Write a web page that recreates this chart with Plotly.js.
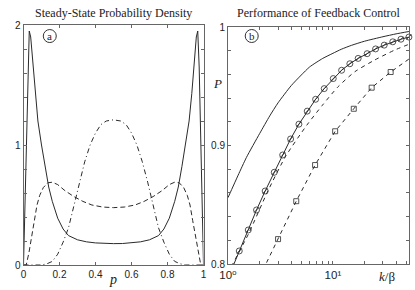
<!DOCTYPE html>
<html>
<head>
<meta charset="utf-8">
<script src="https://cdn.plot.ly/plotly-3.0.1.min.js"></script>
<style>html,body{margin:0;padding:0;background:#fff;}#chart{width:415px;height:290px;}</style>
</head>
<body>
<div id="chart"></div>
<script>
// ---- Panel (a): steady-state probability densities ----
const pSolid = [0, 0.008, 0.016, 0.024, 0.032, 0.04, 0.05, 0.065, 0.08, 0.1, 0.12, 0.14, 0.16, 0.19, 0.22, 0.25, 0.3, 0.35, 0.4, 0.45, 0.5, 0.55, 0.6, 0.65, 0.7, 0.75, 0.78, 0.81, 0.84, 0.86, 0.88, 0.9, 0.92, 0.935, 0.95, 0.96, 0.968, 0.976, 0.984, 0.992, 1];
const densSolid = [0, 0.5, 1.1, 1.65, 1.95, 1.9, 1.72, 1.43, 1.2, 1.0, 0.82, 0.65, 0.53, 0.39, 0.3, 0.245, 0.21, 0.193, 0.184, 0.179, 0.178, 0.179, 0.184, 0.193, 0.21, 0.245, 0.3, 0.39, 0.53, 0.65, 0.82, 1.0, 1.2, 1.43, 1.72, 1.9, 1.95, 1.65, 1.1, 0.5, 0];

const pDash = [0, 0.015, 0.03, 0.045, 0.06, 0.075, 0.09, 0.11, 0.135, 0.16, 0.19, 0.23, 0.28, 0.33, 0.38, 0.44, 0.5, 0.56, 0.62, 0.67, 0.72, 0.77, 0.81, 0.84, 0.865, 0.89, 0.91, 0.925, 0.94, 0.955, 0.97, 0.985, 1];
const densDash = [0, 0, 0.1, 0.24, 0.37, 0.5, 0.58, 0.645, 0.685, 0.69, 0.67, 0.62, 0.57, 0.53, 0.5, 0.483, 0.478, 0.483, 0.5, 0.53, 0.57, 0.62, 0.67, 0.69, 0.685, 0.645, 0.58, 0.5, 0.37, 0.24, 0.1, 0, 0];

const pDashDot = [0, 0.1, 0.13, 0.16, 0.19, 0.22, 0.25, 0.28, 0.31, 0.34, 0.37, 0.4, 0.43, 0.46, 0.5, 0.54, 0.57, 0.6, 0.63, 0.66, 0.69, 0.72, 0.75, 0.78, 0.81, 0.84, 0.87, 0.9, 1];
const densDashDot = [0, 0, 0.01, 0.03, 0.09, 0.19, 0.31, 0.5, 0.69, 0.86, 1.0, 1.1, 1.17, 1.2, 1.21, 1.2, 1.17, 1.1, 1.0, 0.86, 0.69, 0.5, 0.31, 0.19, 0.09, 0.03, 0.01, 0, 0];

const xTickVals = [0, 0.2, 0.4, 0.6, 0.8, 1];
const xTickText = ['0', '0.2', '0.4', '0.6', '0.8', '1'];
const yTickValsA = [0, 1, 2];
const yTickTextA = ['0', '1', '2'];

// ---- Panel (b): performance of feedback control ----
const kUpper = [1, 1.25, 1.5, 2, 2.5, 3, 4, 5, 6, 8, 10, 12, 15, 20, 30, 40, 53];
const PUpper = [0.856, 0.875, 0.89, 0.91, 0.925, 0.936, 0.9505, 0.9595, 0.9663, 0.9735, 0.9778, 0.9812, 0.9845, 0.988, 0.9918, 0.9942, 0.9962];

const kCircLine = [1, 1.28, 1.56, 1.87, 2.26, 2.76, 3.32, 3.95, 4.74, 5.69, 6.84, 8.26, 10.07, 12.1, 14.5, 17.4, 21.2, 25.5, 30.8, 37.2, 44.5, 53.0];
const PCircLine = [0.788, 0.811, 0.8287, 0.8456, 0.8616, 0.8774, 0.892, 0.9055, 0.918, 0.929, 0.939, 0.948, 0.9565, 0.9635, 0.969, 0.9735, 0.9775, 0.9815, 0.9847, 0.9875, 0.9897, 0.9915];
const kCirc = [1.28, 1.56, 1.87, 2.26, 2.76, 3.32, 3.95, 4.74, 5.69, 6.84, 8.26, 10.07, 12.1, 14.5, 17.4, 21.2, 25.5, 30.8, 37.2, 44.5, 53.0];
const PCirc = [0.811, 0.8287, 0.8456, 0.8616, 0.8774, 0.892, 0.9055, 0.918, 0.929, 0.939, 0.948, 0.9565, 0.9635, 0.969, 0.9735, 0.9775, 0.9815, 0.9847, 0.9875, 0.9897, 0.9915];

const kDash1 = [1, 1.11, 1.58, 2.4, 3.55, 5.62, 7.94, 11.2, 16.2, 25.1, 38.9, 53];
const PDash1 = [0.792, 0.8, 0.826, 0.8616, 0.891, 0.917, 0.934, 0.9496, 0.9623, 0.9722, 0.9806, 0.9854];

const kSqLine = [2.0, 2.3, 3.0, 4.47, 6.76, 10.5, 15.8, 23.4, 35.5, 53.1];
const PSqLine = [0.789, 0.8, 0.821, 0.853, 0.8835, 0.912, 0.931, 0.9488, 0.962, 0.973];
const kSq = [3.0, 4.47, 6.76, 10.5, 15.8, 23.4, 35.5, 53.1];
const PSq = [0.821, 0.853, 0.8835, 0.912, 0.931, 0.9488, 0.962, 0.973];

const xTickValsB = [1, 10];
const xTickTextB = ['10\u2070', '10\u00B9'];
const xMinorValsB = [2, 3, 4, 5, 6, 7, 8, 9, 20, 30, 40, 50];
const yTickValsB = [0.8, 0.9, 1.0];
const yTickTextB = ['0.8', '0.9', '1'];

const ink = '#2a2a2a';
const frame = '#666';

const traces = [
  {x: pSolid, y: densSolid, xaxis: 'x', yaxis: 'y', mode: 'lines', line: {color: ink, width: 1}},
  {x: pDash, y: densDash, xaxis: 'x', yaxis: 'y', mode: 'lines', line: {color: ink, width: 1, dash: '5px,3px'}},
  {x: pDashDot, y: densDashDot, xaxis: 'x', yaxis: 'y', mode: 'lines', line: {color: ink, width: 1, dash: '5px,3px,1px,3px'}},

  {x: kUpper, y: PUpper, xaxis: 'x2', yaxis: 'y2', mode: 'lines', line: {color: ink, width: 1, shape: 'spline', smoothing: 0.6}},
  {x: kCircLine, y: PCircLine, xaxis: 'x2', yaxis: 'y2', mode: 'lines', line: {color: ink, width: 1}},
  {x: kDash1, y: PDash1, xaxis: 'x2', yaxis: 'y2', mode: 'lines', line: {color: ink, width: 1, dash: '4px,4px', shape: 'spline', smoothing: 0.6}},
  {x: kSqLine, y: PSqLine, xaxis: 'x2', yaxis: 'y2', mode: 'lines', line: {color: ink, width: 1, dash: '4px,4px'}},
  {x: kCirc, y: PCirc, xaxis: 'x2', yaxis: 'y2', mode: 'markers', cliponaxis: false,
   marker: {symbol: 'circle-open', size: 6, color: ink, line: {width: 0.8, color: ink}}},
  {x: kCirc, y: PCirc, xaxis: 'x2', yaxis: 'y2', mode: 'markers', cliponaxis: false,
   marker: {symbol: 'line-ne', size: 5, color: ink, line: {width: 0.8, color: ink}}},
  {x: kSq, y: PSq, xaxis: 'x2', yaxis: 'y2', mode: 'markers', cliponaxis: false,
   marker: {symbol: 'square-open', size: 5, color: ink, line: {width: 0.8, color: ink}}}
];

const tickFont = {family: 'Liberation Sans, DejaVu Sans, Arial, sans-serif', size: 10, color: '#222'};
const axisCommon = {
  showline: true, mirror: 'allticks', linecolor: frame, linewidth: 1,
  ticks: 'inside', ticklen: 3, tickcolor: frame, tickwidth: 1,
  showgrid: false, zeroline: false, tickfont: tickFont, tickmode: 'array', fixedrange: true
};
const minorCommon = {ticks: 'inside', ticklen: 3, tickcolor: frame, tickwidth: 1, showgrid: false};

const serif = 'Liberation Serif, Times New Roman, serif';
const serifItalic = {family: serif, size: 13, color: '#222', style: 'italic'};

const layout = {
  width: 415, height: 290,
  margin: {l: 0, r: 0, t: 0, b: 0},
  paper_bgcolor: '#fff', plot_bgcolor: '#fff',
  showlegend: false,
  xaxis: Object.assign({}, axisCommon, {domain: [23.5/415, 203.5/415], range: [0, 1], anchor: 'y',
    tickvals: xTickVals, ticktext: xTickText}),
  yaxis: Object.assign({}, axisCommon, {domain: [25/290, 265/290], range: [0, 2], anchor: 'x',
    tickvals: yTickValsA, ticktext: yTickTextA,
    minor: Object.assign({}, minorCommon, {tickmode: 'linear', tick0: 0, dtick: 0.2})}),
  xaxis2: Object.assign({}, axisCommon, {domain: [228/415, 409/415], type: 'log', range: [0, 1.725], anchor: 'y2',
    tickvals: xTickValsB, ticktext: xTickTextB,
    tickfont: Object.assign({}, tickFont, {size: 11.5}),
    minor: Object.assign({}, minorCommon, {tickmode: 'array', tickvals: xMinorValsB})}),
  yaxis2: Object.assign({}, axisCommon, {domain: [26/290, 263/290], range: [0.8, 1.0], anchor: 'x2',
    tickvals: yTickValsB, ticktext: yTickTextB,
    minor: Object.assign({}, minorCommon, {tickmode: 'linear', tick0: 0.8, dtick: 0.02})}),
  annotations: [
    {text: 'Steady-State Probability Density', xref: 'paper', yref: 'paper', x: 113.5/415, y: 1 - 12.5/290,
     showarrow: false, xanchor: 'center', yanchor: 'middle', font: {family: serif, size: 12, color: '#222'}},
    {text: 'Performance of Feedback Control', xref: 'paper', yref: 'paper', x: 319/415, y: 1 - 12.5/290,
     showarrow: false, xanchor: 'center', yanchor: 'middle', font: {family: serif, size: 12, color: '#222'}},
    {text: 'p', xref: 'paper', yref: 'paper', x: 113/415, y: 1 - 279/290,
     showarrow: false, xanchor: 'center', yanchor: 'middle', font: Object.assign({}, serifItalic, {size: 14})},
    {text: '<i>k</i>/β', xref: 'paper', yref: 'paper', x: 387/415, y: 1 - 276/290,
     showarrow: false, xanchor: 'center', yanchor: 'middle', font: {family: serif, size: 13, color: '#222'}},
    {text: 'P', xref: 'paper', yref: 'paper', x: 217/415, y: 1 - 83/290,
     showarrow: false, xanchor: 'center', yanchor: 'middle', font: serifItalic},
    {text: 'a', xref: 'x domain', yref: 'y domain', x: 0.146, y: 0.954,
     showarrow: false, xanchor: 'center', yanchor: 'middle', font: {family: serif, size: 11, color: '#222'}},
    {text: 'b', xref: 'x2 domain', yref: 'y2 domain', x: 0.131, y: 0.962,
     showarrow: false, xanchor: 'center', yanchor: 'middle', font: {family: serif, size: 11, color: '#222'}}
  ],
  shapes: [
    {type: 'circle', xref: 'x domain', yref: 'y domain', xsizemode: 'pixel', ysizemode: 'pixel',
     xanchor: 0.146, yanchor: 0.954, x0: -6.5, x1: 6.5, y0: -6.5, y1: 6.5, line: {color: '#333', width: 1}},
    {type: 'circle', xref: 'x2 domain', yref: 'y2 domain', xsizemode: 'pixel', ysizemode: 'pixel',
     xanchor: 0.131, yanchor: 0.962, x0: -6.5, x1: 6.5, y0: -6.5, y1: 6.5, line: {color: '#333', width: 1}}
  ]
};

Plotly.newPlot('chart', traces, layout, {staticPlot: true, displayModeBar: false}).then(function (gd) {
  gd.querySelectorAll('text').forEach(function (t) {
    if (!t.textContent || !t.textContent.trim()) t.parentNode.removeChild(t);
  });
});
</script>
</body>
</html>
